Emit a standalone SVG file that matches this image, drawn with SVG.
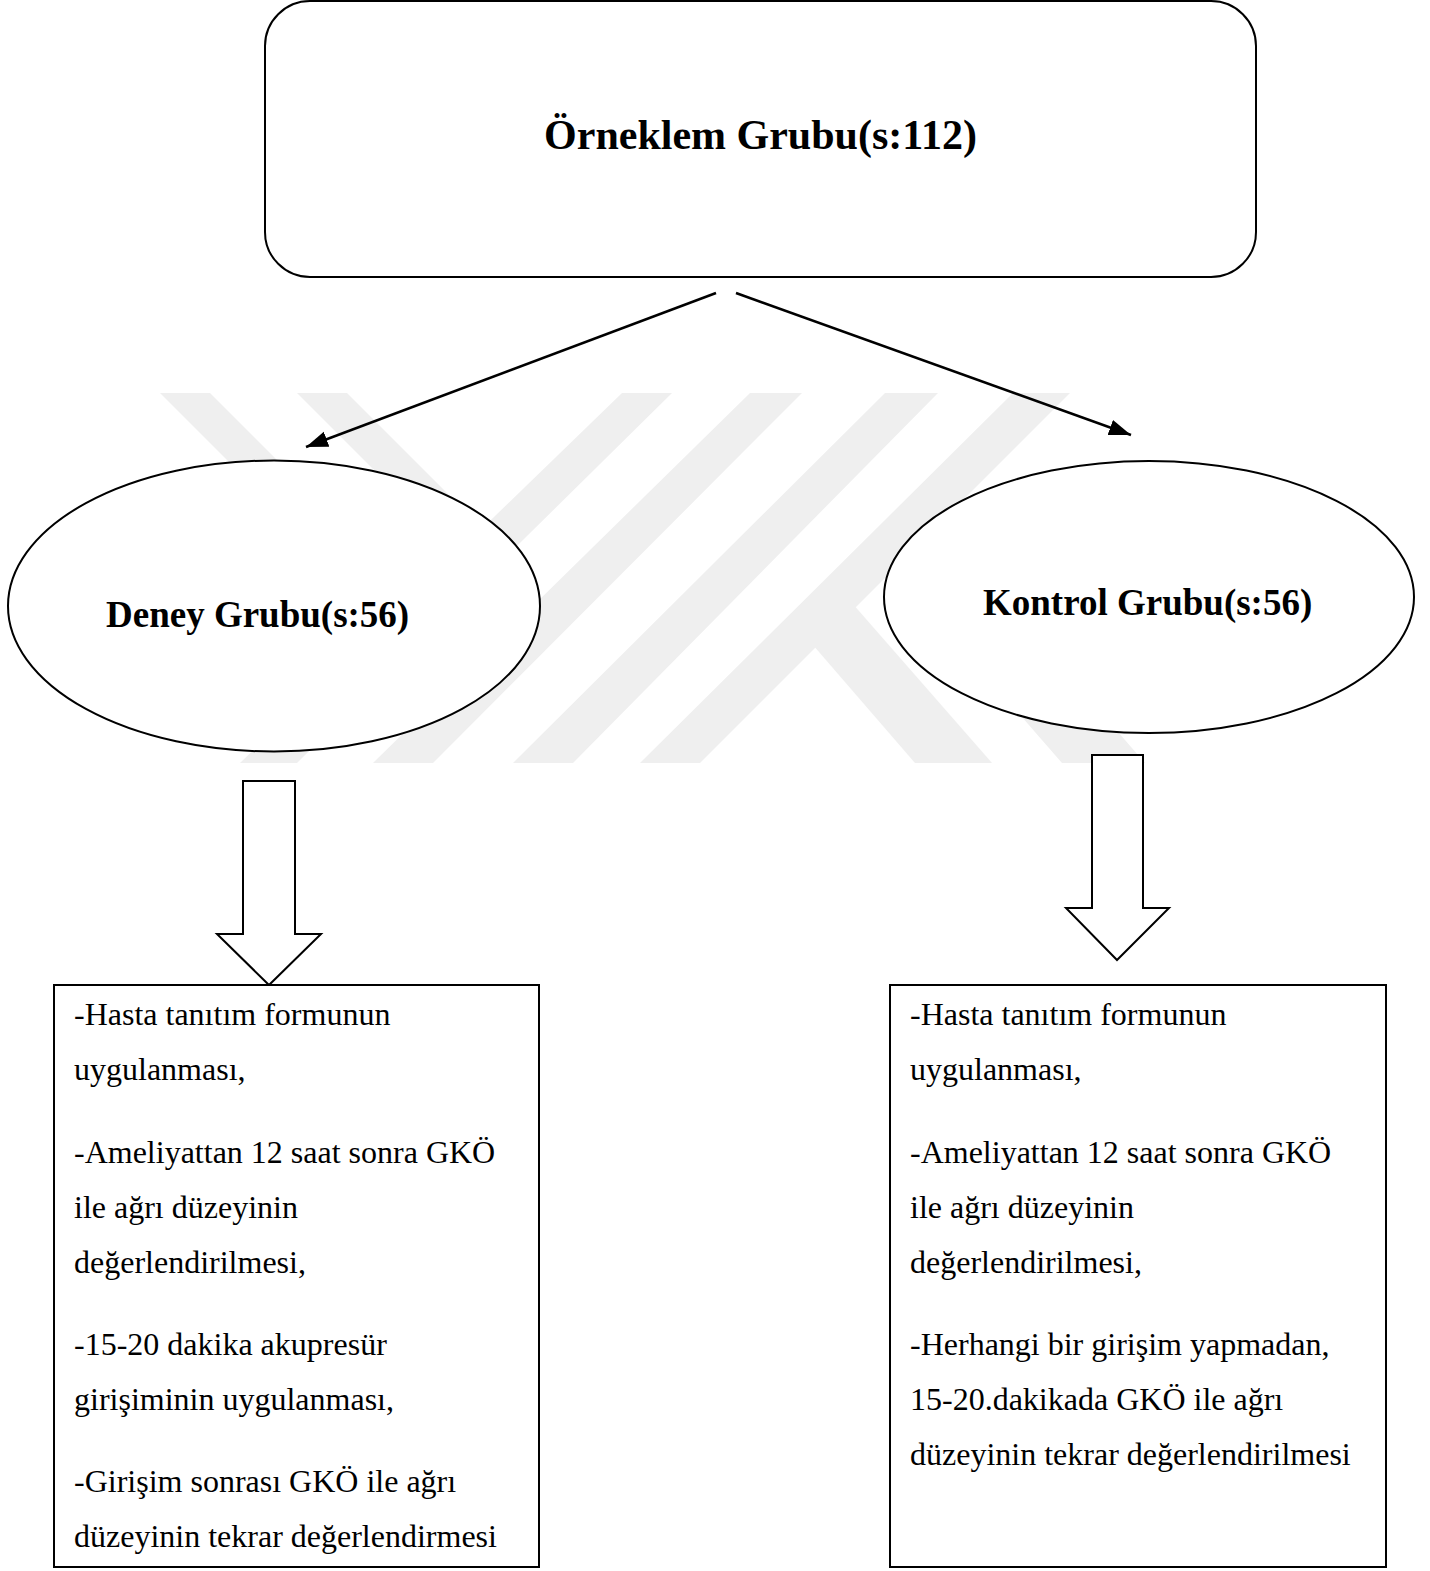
<svg xmlns="http://www.w3.org/2000/svg" width="1430" height="1571" viewBox="0 0 1430 1571">
<style>
.wm{fill:#efefef;stroke:none}
.shape{fill:#fff;stroke:#000;stroke-width:2}
.title{font-family:"Liberation Serif","Times New Roman",serif;font-weight:bold;fill:#000}
.body{font-family:"Liberation Serif","Times New Roman",serif;font-size:32px;fill:#000}
.conn{stroke:#000;stroke-width:2.5;fill:none}
</style>
<defs>
<marker id="ah" markerUnits="userSpaceOnUse" markerWidth="24" markerHeight="18" refX="22" refY="8" orient="auto">
<path d="M0,0 L22,8 L0,16 z" fill="#000"/>
</marker>
</defs>
<rect width="1430" height="1571" fill="#fff"/>
<g id="watermark">
<polygon class="wm" points="160,393 210,393 420,603 370,603"/>
<polygon class="wm" points="297,393 347,393 492,538 467,563"/>
<polygon class="wm" points="622,393 672,393 297,763 240,763"/>
<polygon class="wm" points="750,393 802,393 433,763 373,763"/>
<polygon class="wm" points="885,393 938,393 573,763 513,763"/>
<polygon class="wm" points="1013,393 1070,393 700,763 640,763"/>
<polygon class="wm" points="800,630 845,595 992,763 915,763"/>
<polygon class="wm" points="931,613 971,563 1145,763 1062,763"/>
</g>
<g id="connectors">
<line class="conn" x1="716" y1="293" x2="306" y2="447" marker-end="url(#ah)"/>
<line class="conn" x1="736" y1="293" x2="1131" y2="435" marker-end="url(#ah)"/>
<polygon class="shape" points="243,781 295,781 295,934 321,934 269,985 217,934 243,934"/>
<polygon class="shape" points="1092,755 1143,755 1143,908 1169,908 1117,960 1066,908 1092,908"/>
</g>
<g id="orneklem">
<rect class="shape" x="265" y="1" width="991" height="276" rx="45" ry="45"/>
<text class="title" x="760.5" y="149" font-size="42" text-anchor="middle">Örneklem Grubu(s:112)</text>
</g>
<g id="deney">
<ellipse class="shape" cx="274" cy="606" rx="266" ry="145.5"/>
<text class="title" x="106" y="627" font-size="37">Deney Grubu(s:56)</text>
</g>
<g id="kontrol">
<ellipse class="shape" cx="1149" cy="597" rx="265" ry="136"/>
<text class="title" x="983" y="615" font-size="37">Kontrol Grubu(s:56)</text>
</g>
<g id="deney-steps">
<rect class="shape" x="54" y="985" width="485" height="582"/>
<text class="body" x="74" y="1025">-Hasta tanıtım formunun</text>
<text class="body" x="74" y="1080">uygulanması,</text>
<text class="body" x="74" y="1163">-Ameliyattan 12 saat sonra GKÖ</text>
<text class="body" x="74" y="1218">ile ağrı düzeyinin</text>
<text class="body" x="74" y="1273">değerlendirilmesi,</text>
<text class="body" x="74" y="1355">-15-20 dakika akupresür</text>
<text class="body" x="74" y="1410">girişiminin uygulanması,</text>
<text class="body" x="74" y="1492">-Girişim sonrası GKÖ ile ağrı</text>
<text class="body" x="74" y="1547">düzeyinin tekrar değerlendirmesi</text>
</g>
<g id="kontrol-steps">
<rect class="shape" x="890" y="985" width="496" height="582"/>
<text class="body" x="910" y="1025">-Hasta tanıtım formunun</text>
<text class="body" x="910" y="1080">uygulanması,</text>
<text class="body" x="910" y="1163">-Ameliyattan 12 saat sonra GKÖ</text>
<text class="body" x="910" y="1218">ile ağrı düzeyinin</text>
<text class="body" x="910" y="1273">değerlendirilmesi,</text>
<text class="body" x="910" y="1355">-Herhangi bir girişim yapmadan,</text>
<text class="body" x="910" y="1410">15-20.dakikada GKÖ ile ağrı</text>
<text class="body" x="910" y="1465">düzeyinin tekrar değerlendirilmesi</text>
</g>
</svg>
